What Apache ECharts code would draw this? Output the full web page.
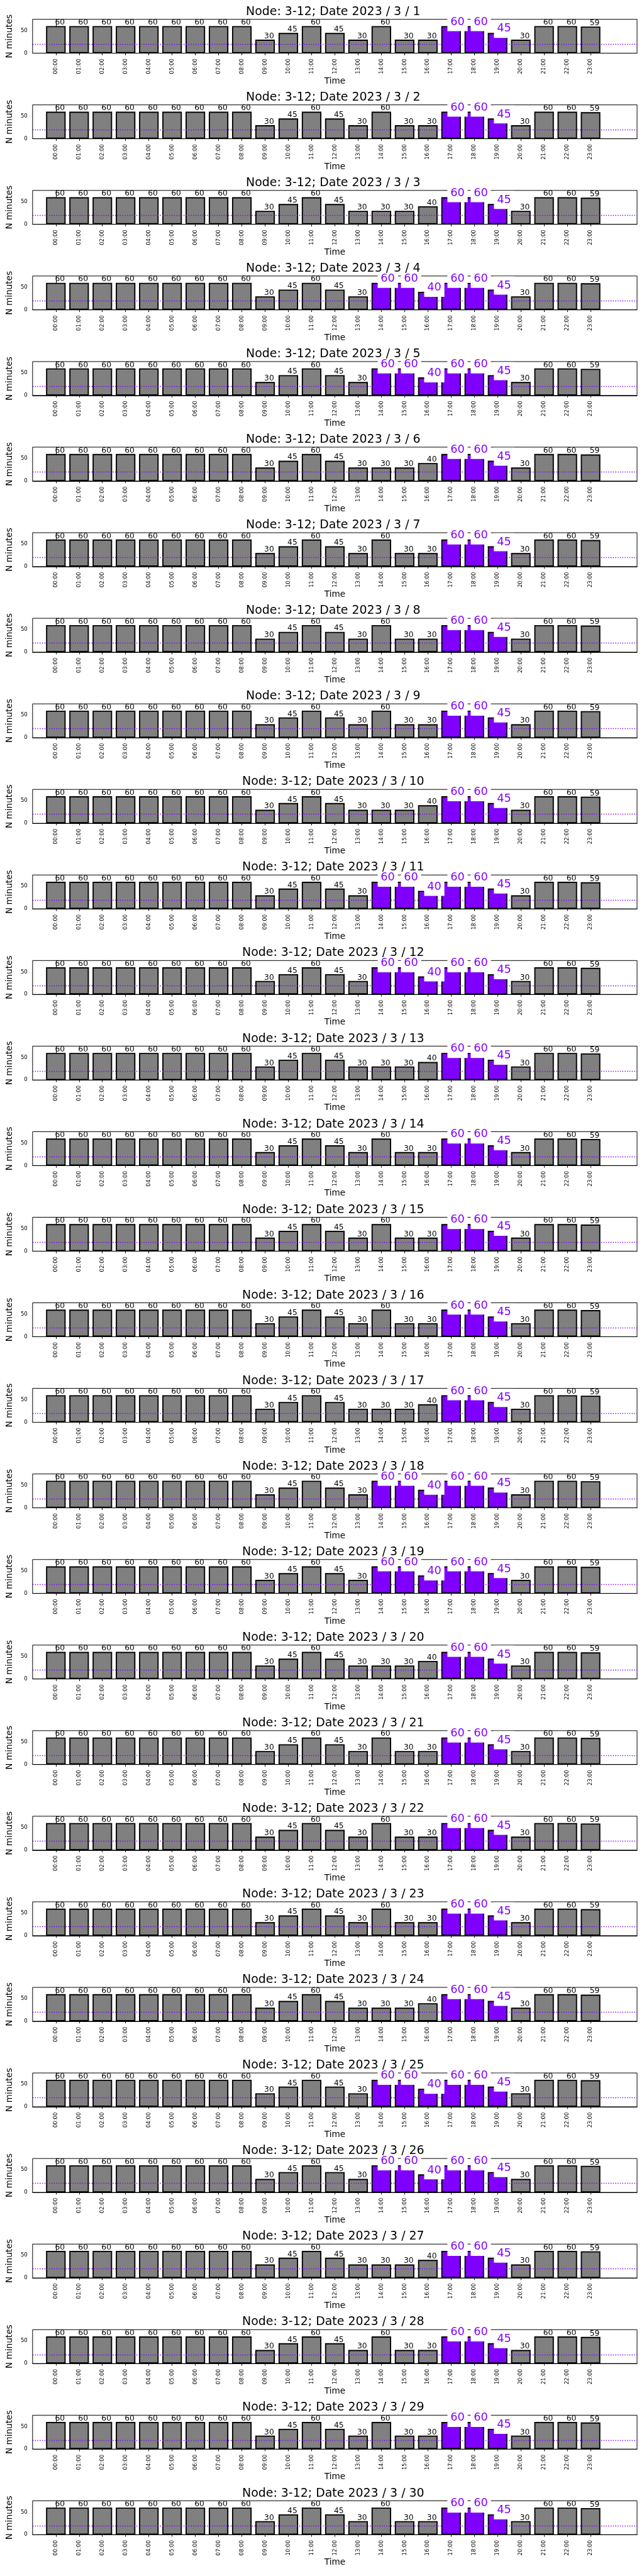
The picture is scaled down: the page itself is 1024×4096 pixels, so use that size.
<!DOCTYPE html>
<html><head><meta charset="utf-8">
<script src="https://cdn.jsdelivr.net/npm/echarts@6/dist/echarts.min.js"></script>
<style>html,body{margin:0;padding:0;background:#fff}#c{width:1024px;height:4096px}</style>
</head><body><div id="c"></div>
<script>
// ---------------- data ----------------
const hours = ['00:00','01:00','02:00','03:00','04:00','05:00','06:00','07:00','08:00','09:00','10:00','11:00',
               '12:00','13:00','14:00','15:00','16:00','17:00','18:00','19:00','20:00','21:00','22:00','23:00'];
const nodeName = '3-12';
const days = [1,2,3,4,5,6,7,8,9,10,11,12,13,14,15,16,17,18,19,20,21,22,23,24,25,26,27,28,29,30];
// three daily profiles seen in the picture (N minutes per hour)
const valuesA = [60,60,60,60,60,60,60,60,60,30,45,60,45,30,60,30,30,60,60,45,30,60,60,59];
const valuesB = [60,60,60,60,60,60,60,60,60,30,45,60,45,30,30,30,40,60,60,45,30,60,60,59];
const valuesC = [60,60,60,60,60,60,60,60,60,30,45,60,45,30,60,60,40,60,60,45,30,60,60,59];
// highlighted (purple) hours of each profile
const highlightA = [17,18,19];
const highlightB = [17,18,19];
const highlightC = [14,15,16,17,18,19];
// which profile each day uses
const dayProfile = ['A','A','B','C','C','B','A','A','A','B','C','C','B','A','A','A','B','C','C','B','A','A','A','B','C','C','B','A','A','A'];
const threshold = 20;
const yTicks = [0, 50];

// ---------------- layout / style ----------------
const S = 0.682;
const PURPLE = '#8000ff', GRAY = '#808080';
const FONT = 'DejaVu Sans';
const gridLeft = 68.4 * S, gridRightEdge = 1485.3 * S;
const gridW = gridRightEdge - gridLeft;
const gridH = 79 * S;
const pitch = 199.5 * S;
const firstTop = 45 * S;
const xMin = -1, xMax = 25;
const barW = 45.7 * S;

const profiles = {A: [valuesA, highlightA], B: [valuesB, highlightB], C: [valuesC, highlightC]};

const grids = [], xAxes = [], yAxes = [], series = [], titles = [];
days.forEach((d, k) => {
  const top = firstTop + pitch * k;
  grids.push({left: gridLeft, top: top, width: gridW, height: gridH, show: true,
              borderColor: '#000', borderWidth: 1, backgroundColor: 'transparent', containLabel: false});
  titles.push({text: 'Node: ' + nodeName + '; Date 2023 / 3 / ' + d, left: gridLeft + gridW / 2, textAlign: 'center',
               top: top + (36 - 45) * S - 0.8 * 27.8 * S, padding: 0,
               textStyle: {fontFamily: FONT, fontSize: 27.8 * S, fontWeight: 'normal', color: '#000'}});
  xAxes.push({type: 'value', gridIndex: k, min: xMin, max: xMax, interval: 1,
    name: 'Time', nameLocation: 'middle', nameGap: 37.5,
    nameTextStyle: {fontFamily: FONT, fontSize: 20 * S, color: '#000'},
    axisLine: {show: true, lineStyle: {color: '#000', width: 1}},
    axisTick: {show: true, customValues: hours.map((h, i) => i), length: 4.9 * S, lineStyle: {color: '#000', width: 1}},
    axisLabel: {show: true, customValues: hours.map((h, i) => i), rotate: 90, margin: 8.6,
      fontFamily: FONT, fontSize: 12.5 * S, color: '#000', formatter: v => hours[v] || ''},
    splitLine: {show: false}});
  yAxes.push({type: 'value', gridIndex: k, min: 0, max: 75,
    name: 'N minutes', nameLocation: 'middle', nameRotate: 90, nameGap: 22.7,
    nameTextStyle: {fontFamily: FONT, fontSize: 20 * S, color: '#000'},
    axisLine: {show: true, lineStyle: {color: '#000', width: 1}},
    axisTick: {show: true, customValues: yTicks, length: 4.9 * S, lineStyle: {color: '#000', width: 1}},
    axisLabel: {show: true, customValues: yTicks, margin: 8.1, fontFamily: FONT, fontSize: 12.5 * S, color: '#000'},
    splitLine: {show: false}});
  const [vals, hl] = profiles[dayProfile[k]];
  const data = vals.map((v, i) => {
    const isHl = hl.indexOf(i) >= 0;
    const item = {value: [i, v], itemStyle: {color: isHl ? PURPLE : GRAY}};
    if (isHl) item.label = {fontSize: 26 * S, color: PURPLE, backgroundColor: '#fff',
                            padding: [5.5, 4.8, 5.3, 4.8], offset: [-5.8, -6.4]};
    return item;
  });
  series.push({type: 'bar', xAxisIndex: k, yAxisIndex: k, data: data, barWidth: barW,
    itemStyle: {borderColor: '#000', borderWidth: 2.78 * S},
    label: {show: true, position: ['50%', 0], align: 'left', verticalAlign: 'middle', offset: [-1.4, -5.35],
            fontFamily: FONT, fontSize: 18 * S, color: '#000', formatter: p => String(p.value[1])},
    markLine: {silent: true, symbol: 'none', label: {show: false},
               lineStyle: {color: PURPLE, width: 2 * S, type: [2.1 * S, 3.4 * S], opacity: 1},
               emphasis: {disabled: true}, data: [{yAxis: threshold}]},
    emphasis: {disabled: true}});
});

const chart = echarts.init(document.getElementById('c'), null, {renderer: 'canvas'});
chart.setOption({animation: false, backgroundColor: '#fff', title: titles,
                 grid: grids, xAxis: xAxes, yAxis: yAxes, series: series});
</script></body></html>
